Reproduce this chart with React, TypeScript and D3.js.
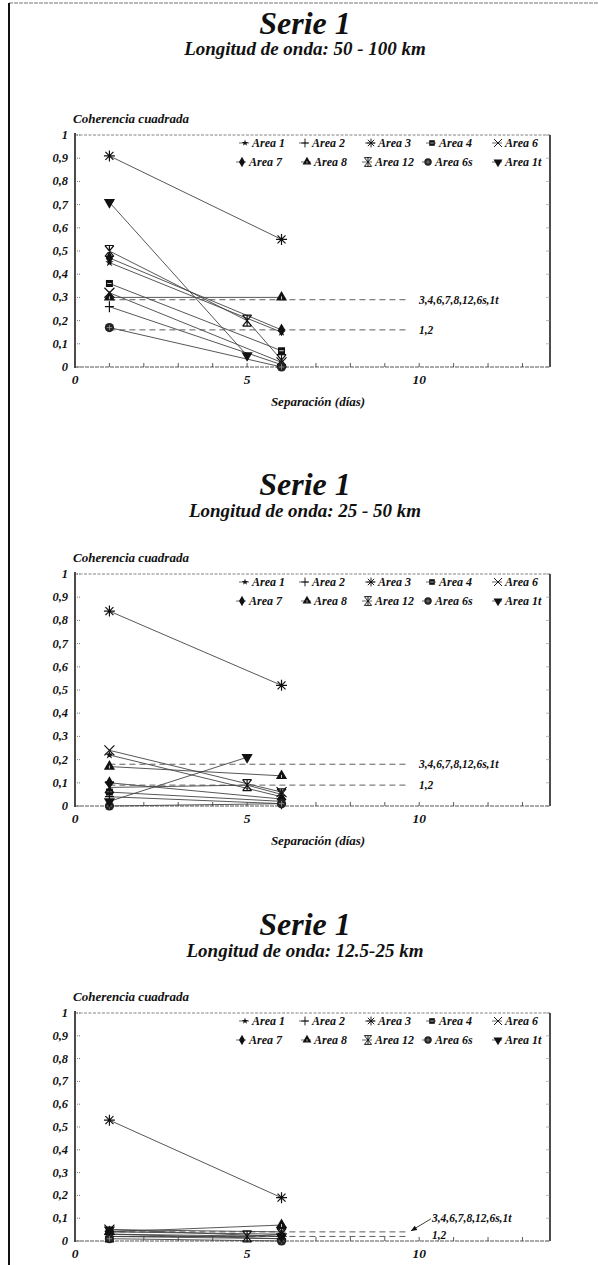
import React from "react";
import * as d3 from "d3";

// ---------- data ----------
const AREAS = ["Area 1", "Area 2", "Area 3", "Area 4", "Area 6", "Area 7", "Area 8", "Area 12", "Area 6s", "Area 1t"];
const MARKERS = ["smallstar", "plus", "asterisk", "square", "times", "diamond", "triangle", "hourglass", "circle", "tridown"];

const TITLE = "Serie 1";
const SUBTITLES = ["Longitud de onda: 50 - 100 km", "Longitud de onda: 25 - 50 km", "Longitud de onda: 12.5-25 km"];
const Y_LABEL = "Coherencia cuadrada";
const X_LABEL = "Separación (días)";

const Y_TICKS = [0, 0.1, 0.2, 0.3, 0.4, 0.5, 0.6, 0.7, 0.8, 0.9, 1];
const Y_TICK_LABELS = ["0", "0,1", "0,2", "0,3", "0,4", "0,5", "0,6", "0,7", "0,8", "0,9", "1"];
const X_TICKS = [0, 5, 10];
const X_TICK_LABELS = ["0", "5", "10"];
const X_MINOR = [1, 2, 3, 4, 5, 6, 7, 8, 9, 10, 11, 12, 13];

const SIG_LABELS = ["3,4,6,7,8,12,6s,1t", "1,2"];
const SIG_50_100 = [0.29, 0.16];
const SIG_25_50 = [0.18, 0.09];
const SIG_12_25 = [0.04, 0.02];
const SIG_X = [1, 9.7];

// points [separation (days), squared coherence] per area, same order as AREAS
const DATA_50_100: [number, number][][] = [
  [[1, 0.45], [6, 0.15]],
  [[1, 0.26], [6, 0.01]],
  [[1, 0.91], [6, 0.55]],
  [[1, 0.36], [6, 0.07]],
  [[1, 0.32], [6, 0.02]],
  [[1, 0.47], [6, 0.16]],
  [[1, 0.30], [6, 0.30]],
  [[1, 0.50], [5, 0.20], [6, 0.03]],
  [[1, 0.17], [6, 0.0]],
  [[1, 0.71], [5, 0.05]],
];

const DATA_25_50: [number, number][][] = [
  [[1, 0.22], [6, 0.04]],
  [[1, 0.04], [6, 0.01]],
  [[1, 0.84], [6, 0.52]],
  [[1, 0.06], [6, 0.02]],
  [[1, 0.24], [6, 0.06]],
  [[1, 0.10], [6, 0.03]],
  [[1, 0.17], [6, 0.13]],
  [[1, 0.08], [5, 0.09], [6, 0.05]],
  [[1, 0.0], [6, 0.01]],
  [[1, 0.02], [5, 0.21]],
];

const DATA_12_25: [number, number][][] = [
  [[1, 0.04], [6, 0.03]],
  [[1, 0.02], [6, 0.01]],
  [[1, 0.53], [6, 0.19]],
  [[1, 0.03], [6, 0.02]],
  [[1, 0.05], [6, 0.04]],
  [[1, 0.03], [6, 0.01]],
  [[1, 0.04], [6, 0.07]],
  [[1, 0.02], [5, 0.02], [6, 0.03]],
  [[1, 0.01], [6, 0.0]],
  [[1, 0.05], [6, 0.02]],
];

// ---------- layout ----------
const FONT = "'Liberation Serif', 'Times New Roman', serif";
const LEFT = 75;
const RIGHT = 550;
const X_MAX = 13.8;
const CX = 305;
const LEG_X = [
  [245, 305, 371, 432, 498],
  [242, 307, 368, 428, 498],
];

const PANELS = [
  { data: DATA_50_100, sig: SIG_50_100, titleY: 34, subY: 55, y1: 135, y0: 367, xLabel: true, arrow: false },
  { data: DATA_25_50, sig: SIG_25_50, titleY: 495, subY: 517, y1: 574, y0: 806, xLabel: true, arrow: false },
  { data: DATA_12_25, sig: SIG_12_25, titleY: 935, subY: 957, y1: 1013, y0: 1241, xLabel: false, arrow: true },
];

function Marker({ type, x, y, s = 1 }: { type: string; x: number; y: number; s?: number }) {
  const t = `translate(${x},${y}) scale(${s})`;
  switch (type) {
    case "smallstar":
      return <path transform={t} d={d3.symbol(d3.symbolStar, 22)() as string} fill="#111" />;
    case "plus":
      return <path transform={t} d="M-4.5,0H4.5M0,-5.5V5.5" stroke="#111" strokeWidth={1.2} fill="none" />;
    case "asterisk":
      return (
        <path transform={t} d="M-5.5,0H5.5M0,-5.5V5.5M-4,-4L4,4M-4,4L4,-4" stroke="#111" strokeWidth={1.2} fill="none" />
      );
    case "square":
      return (
        <g transform={t}>
          <rect x={-3.5} y={-3.5} width={7} height={7} fill="#111" />
          <path d="M-2.2,0H2.2" stroke="#fff" strokeWidth={0.8} />
        </g>
      );
    case "times":
      return <path transform={t} d="M-5,-5L5,5M-5,5L5,-5" stroke="#111" strokeWidth={1.2} fill="none" />;
    case "diamond":
      return <path transform={t} d={d3.symbol(d3.symbolDiamond, 48)() as string} fill="#111" />;
    case "triangle":
      return (
        <g transform={t}>
          <path d={d3.symbol(d3.symbolTriangle, 54)() as string} fill="#111" />
          <path d="M0,-1L0,2" stroke="#fff" strokeWidth={0.8} />
        </g>
      );
    case "hourglass":
      return (
        <path transform={t} d="M-4.5,-5.5H4.5M-4.5,5.5H4.5M-4.5,-5.5L4.5,5.5M4.5,-5.5L-4.5,5.5M0,-5.5V5.5" stroke="#111" strokeWidth={1.2} fill="none" />
      );
    case "circle":
      return (
        <g transform={t}>
          <circle r={4.6} fill="#222" />
          <path d="M-2.7,0H2.7M0,-2.7V2.7" stroke="#999" strokeWidth={0.8} />
        </g>
      );
    case "tridown":
      return (
        <path transform={`${t} rotate(180)`} d={d3.symbol(d3.symbolTriangle, 54)() as string} fill="#111" />
      );
    default:
      return null;
  }
}

function Panel({ p, idx }: { p: (typeof PANELS)[number]; idx: number }) {
  const xs = d3.scaleLinear().domain([0, X_MAX]).range([LEFT, RIGHT]);
  const ys = d3.scaleLinear().domain([0, 1]).range([p.y0, p.y1]);
  const line = d3
    .line<[number, number]>()
    .x((d) => xs(d[0]))
    .y((d) => ys(d[1]));
  const txt = { fontFamily: FONT, fontWeight: 700, fontStyle: "italic" as const, fill: "#111" };
  const sigEnd = xs(SIG_X[1]);
  return (
    <g>
      <text x={CX} y={p.titleY} textAnchor="middle" fontSize={32} {...txt}>
        {TITLE}
      </text>
      <text x={CX} y={p.subY} textAnchor="middle" fontSize={19} {...txt}>
        {SUBTITLES[idx]}
      </text>
      <text x={LEFT - 2} y={p.y1 - 12} fontSize={13} {...txt}>
        {Y_LABEL}
      </text>

      {/* frame */}
      <line x1={LEFT} x2={RIGHT} y1={p.y1} y2={p.y1} stroke="#666" strokeWidth={0.8} strokeDasharray="3,1.5" />
      <line x1={RIGHT} x2={RIGHT} y1={p.y1} y2={p.y0} stroke="#111" strokeWidth={1.5} />
      <line x1={LEFT} x2={RIGHT} y1={p.y0} y2={p.y0} stroke="#444" strokeWidth={0.9} strokeDasharray="4,1" />
      <line x1={LEFT} x2={LEFT} y1={p.y1 - 2} y2={p.y0 + 1} stroke="#111" strokeWidth={1.5} />

      {/* y ticks */}
      {Y_TICKS.map((v, i) => (
        <g key={"yt" + i}>
          <line x1={LEFT} x2={LEFT + 5} y1={ys(v)} y2={ys(v)} stroke="#555" strokeWidth={0.8} strokeDasharray="1,1" />
          <line x1={RIGHT - 4} x2={RIGHT} y1={ys(v)} y2={ys(v)} stroke="#888" strokeWidth={0.6} />
          <text x={LEFT - 7} y={ys(v) + 4} textAnchor="end" fontSize={12.5} {...txt}>
            {Y_TICK_LABELS[i]}
          </text>
        </g>
      ))}
      {/* x ticks */}
      {X_MINOR.map((v) => (
        <line key={"xm" + v} x1={xs(v)} x2={xs(v)} y1={p.y0} y2={p.y0 - 4} stroke="#333" strokeWidth={0.8} />
      ))}
      {X_TICKS.map((v, i) => (
        <text key={"xt" + v} x={xs(v)} y={p.y0 + 17} textAnchor="middle" fontSize={13.5} {...txt}>
          {X_TICK_LABELS[i]}
        </text>
      ))}
      {p.xLabel && (
        <text x={318} y={p.y0 + 39} textAnchor="middle" fontSize={13} {...txt}>
          {X_LABEL}
        </text>
      )}

      {/* significance levels */}
      {p.sig.map((v, i) => (
        <line
          key={"sg" + i}
          x1={xs(SIG_X[0])}
          x2={sigEnd}
          y1={ys(v)}
          y2={ys(v)}
          stroke="#333"
          strokeWidth={0.8}
          strokeDasharray="6,4"
        />
      ))}
      {!p.arrow &&
        p.sig.map((v, i) => (
          <text key={"sl" + i} x={sigEnd + 10} y={ys(v) + 4} fontSize={11.5} {...txt}>
            {SIG_LABELS[i]}
          </text>
        ))}
      {p.arrow && (
        <g>
          <line x1={sigEnd + 22} y1={ys(p.sig[0]) - 13} x2={sigEnd + 2} y2={ys(p.sig[0]) - 1} stroke="#111" strokeWidth={0.8} />
          <path
            transform={`translate(${sigEnd + 2},${ys(p.sig[0]) - 1}) rotate(-31)`}
            d="M0,0L6,-2.5L6,2.5Z"
            fill="#111"
          />
          <text x={sigEnd + 23} y={ys(p.sig[0]) - 10} fontSize={11.5} {...txt}>
            {SIG_LABELS[0]}
          </text>
          <text x={sigEnd + 23} y={ys(p.sig[1]) + 3} fontSize={11.5} {...txt}>
            {SIG_LABELS[1]}
          </text>
        </g>
      )}

      {/* series lines */}
      {p.data.map((s, i) => (
        <path key={"ln" + i} d={line(s) as string} fill="none" stroke="#444" strokeWidth={0.9} />
      ))}
      {/* markers */}
      {p.data.map((s, i) =>
        s.map((d, j) => <Marker key={`mk${i}-${j}`} type={MARKERS[i]} x={xs(d[0])} y={ys(d[1])} />)
      )}

      {/* legend */}
      {AREAS.map((name, i) => {
        const row = i < 5 ? 0 : 1;
        const col = i % 5;
        const sx = LEG_X[row][col];
        const sy = p.y1 + (row === 0 ? 8 : 27);
        return (
          <g key={"lg" + i}>
            <line x1={sx - 6} x2={sx + 4} y1={sy} y2={sy} stroke="#444" strokeWidth={0.8} />
            <Marker type={MARKERS[i]} x={sx} y={sy} s={0.8} />
            <text x={sx + 7} y={sy + 4} fontSize={12} {...txt}>
              {name}
            </text>
          </g>
        );
      })}
    </g>
  );
}

export default function App() {
  return (
    <svg width={598} height={1265} style={{ position: "absolute", left: 0, top: 0, background: "#fff" }}>
      <rect x={0} y={0} width={598} height={1265} fill="#fff" />
      <line x1={9} x2={598} y1={3} y2={3} stroke="#777" strokeWidth={1} strokeDasharray="4,1" />
      <line x1={9} x2={9} y1={3} y2={1265} stroke="#111" strokeWidth={2} />
      {PANELS.map((p, i) => (
        <Panel key={i} p={p} idx={i} />
      ))}
    </svg>
  );
}
